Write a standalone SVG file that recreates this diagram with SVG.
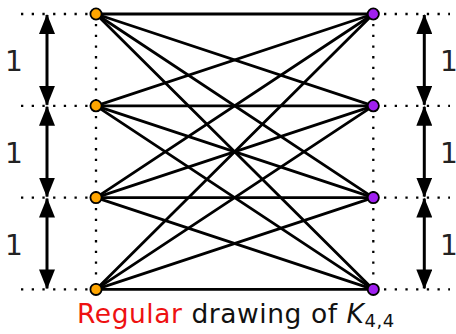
<svg xmlns="http://www.w3.org/2000/svg" width="456" height="334" viewBox="0 0 456 334">
<style>
.dot{stroke:#000;stroke-width:2.3;stroke-dasharray:2.3 8.4;fill:none}
.edge{stroke:#000;stroke-width:2.8;stroke-linecap:round}
.arr{stroke:#000;stroke-width:3;fill:none}
.lbl{font-family:"DejaVu Sans",sans-serif;font-size:28px;fill:#222}
.cap{font-family:"DejaVu Sans",sans-serif;font-size:26.5px;letter-spacing:0.55px;fill:#111}
.na{fill:#FFA500;stroke:#000;stroke-width:1.8}
.nb{fill:#A020F0;stroke:#000;stroke-width:1.8}
</style>
<defs>
<marker id="h" markerUnits="userSpaceOnUse" markerWidth="20" markerHeight="16" viewBox="0 0 20 16" refX="19" refY="8" orient="auto-start-reverse">
<path d="M0,0 L20,8 L0,16 Z" fill="#000"/>
</marker>
</defs>
<g id="guides">
<line class="dot" x1="21" y1="14" x2="90" y2="14"/>
<line class="dot" x1="21" y1="105.8" x2="90" y2="105.8"/>
<line class="dot" x1="21" y1="197.6" x2="90" y2="197.6"/>
<line class="dot" x1="21" y1="289.4" x2="90" y2="289.4"/>
<line class="dot" x1="384" y1="14" x2="450" y2="14"/>
<line class="dot" x1="384" y1="105.8" x2="450" y2="105.8"/>
<line class="dot" x1="384" y1="197.6" x2="450" y2="197.6"/>
<line class="dot" x1="384" y1="289.4" x2="450" y2="289.4"/>
<line class="dot" x1="96" y1="24" x2="96" y2="100"/>
<line class="dot" x1="96" y1="116" x2="96" y2="192"/>
<line class="dot" x1="96" y1="208" x2="96" y2="284"/>
<line class="dot" x1="373.3" y1="24" x2="373.3" y2="100"/>
<line class="dot" x1="373.3" y1="116" x2="373.3" y2="192"/>
<line class="dot" x1="373.3" y1="208" x2="373.3" y2="284"/>
</g>
<g id="dimensions">
<line class="arr" x1="47" y1="15" x2="47" y2="104.8" marker-start="url(#h)" marker-end="url(#h)"/>
<line class="arr" x1="47" y1="106.8" x2="47" y2="196.6" marker-start="url(#h)" marker-end="url(#h)"/>
<line class="arr" x1="47" y1="198.6" x2="47" y2="288.4" marker-start="url(#h)" marker-end="url(#h)"/>
<line class="arr" x1="424.3" y1="15" x2="424.3" y2="104.8" marker-start="url(#h)" marker-end="url(#h)"/>
<line class="arr" x1="424.3" y1="106.8" x2="424.3" y2="196.6" marker-start="url(#h)" marker-end="url(#h)"/>
<line class="arr" x1="424.3" y1="198.6" x2="424.3" y2="288.4" marker-start="url(#h)" marker-end="url(#h)"/>
<text class="lbl" x="5" y="71">1</text>
<text class="lbl" x="5" y="163">1</text>
<text class="lbl" x="5" y="254.5">1</text>
<text class="lbl" x="440" y="71">1</text>
<text class="lbl" x="440" y="163">1</text>
<text class="lbl" x="440" y="254.5">1</text>
</g>
<g id="edges">
<line class="edge" x1="96" y1="14" x2="373.3" y2="14"/>
<line class="edge" x1="96" y1="14" x2="373.3" y2="105.8"/>
<line class="edge" x1="96" y1="14" x2="373.3" y2="197.6"/>
<line class="edge" x1="96" y1="14" x2="373.3" y2="289.4"/>
<line class="edge" x1="96" y1="105.8" x2="373.3" y2="14"/>
<line class="edge" x1="96" y1="105.8" x2="373.3" y2="105.8"/>
<line class="edge" x1="96" y1="105.8" x2="373.3" y2="197.6"/>
<line class="edge" x1="96" y1="105.8" x2="373.3" y2="289.4"/>
<line class="edge" x1="96" y1="197.6" x2="373.3" y2="14"/>
<line class="edge" x1="96" y1="197.6" x2="373.3" y2="105.8"/>
<line class="edge" x1="96" y1="197.6" x2="373.3" y2="197.6"/>
<line class="edge" x1="96" y1="197.6" x2="373.3" y2="289.4"/>
<line class="edge" x1="96" y1="289.4" x2="373.3" y2="14"/>
<line class="edge" x1="96" y1="289.4" x2="373.3" y2="105.8"/>
<line class="edge" x1="96" y1="289.4" x2="373.3" y2="197.6"/>
<line class="edge" x1="96" y1="289.4" x2="373.3" y2="289.4"/>
</g>
<g id="a1"><circle class="na" cx="96" cy="14" r="5.6"/></g>
<g id="a2"><circle class="na" cx="96" cy="105.8" r="5.6"/></g>
<g id="a3"><circle class="na" cx="96" cy="197.6" r="5.6"/></g>
<g id="a4"><circle class="na" cx="96" cy="289.4" r="5.6"/></g>
<g id="b1"><circle class="nb" cx="373.3" cy="14" r="5.6"/></g>
<g id="b2"><circle class="nb" cx="373.3" cy="105.8" r="5.6"/></g>
<g id="b3"><circle class="nb" cx="373.3" cy="197.6" r="5.6"/></g>
<g id="b4"><circle class="nb" cx="373.3" cy="289.4" r="5.6"/></g>
<g id="caption">
<text class="cap" x="77" y="323"><tspan fill="#EE1111">Regular</tspan> drawing of <tspan font-style="italic">K</tspan><tspan font-size="18" dy="4">4,4</tspan></text>
</g>
</svg>
